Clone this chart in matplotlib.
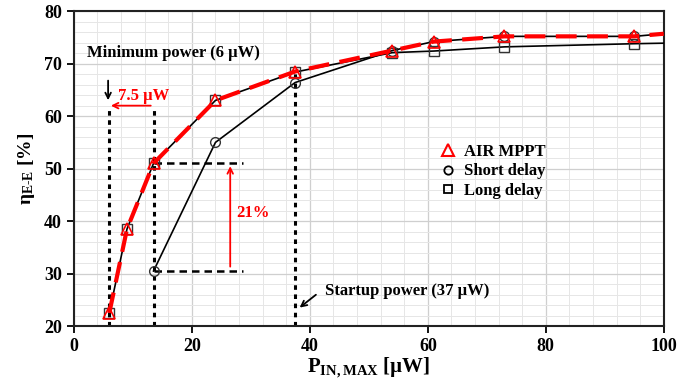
import matplotlib.pyplot as plt
import numpy as np
from matplotlib.ticker import MultipleLocator
from matplotlib.lines import Line2D

plt.rcParams.update({'font.family': 'Liberation Serif', 'font.weight': 'bold',
                     'mathtext.fontset': 'custom',
                     'mathtext.rm': 'Liberation Serif:bold',
                     'mathtext.it': 'Liberation Serif:bold',
                     'mathtext.bf': 'Liberation Serif:bold'})

# data (last value at x=100 has no marker)
p_in = [6, 9, 13.5, 24, 37.5, 54, 61, 73, 95, 100]
air_mppt = [22.5, 38.5, 51, 63, 68.5, 72.5, 74.2, 75.2, 75.2, 75.7]
short_x = [13.5, 24, 37.5, 54, 61, 73, 95, 100]
short_delay = [30.5, 55, 66.4, 72.5, 74.2, 75.2, 75.2, 75.7]
long_delay = [22.5, 38.5, 51, 63, 68.4, 72.1, 72.4, 73.2, 73.8, 73.9]

fig = plt.figure(figsize=(6.78, 3.85), dpi=100)
ax = fig.add_axes([0.109, 0.153, 0.870, 0.818])

ax.plot(p_in, long_delay, color='black', lw=1.2, marker='s', ms=7, mfc='none',
        mec='#333333', mew=1.0, markevery=list(range(len(p_in) - 1)), zorder=3)
ax.plot(short_x, short_delay, color='black', lw=1.2, marker='o', ms=7, mfc='none',
        mec='#333333', mew=1.0, markevery=list(range(len(short_x) - 1)), zorder=3)
ax.plot(p_in, air_mppt, color='red', lw=3, ls=(0, (5, 2.5)), marker='^', ms=8, mfc='none',
        mec='red', mew=1.2, markevery=list(range(len(p_in) - 1)), zorder=4)

# guide lines
ax.plot([6, 6], [20, 62], color='black', ls=(0, (1.5, 1.5)), lw=2.2, zorder=2)
ax.plot([13.5, 13.5], [20, 62], color='black', ls=(0, (1.5, 1.5)), lw=2.2, zorder=2)
ax.plot([37.5, 37.5], [20, 68.3], color='black', ls=(0, (1.5, 1.5)), lw=2.2, zorder=2)
ax.plot([13.5, 28.7], [51, 51], color='black', ls=(0, (3, 2)), lw=1.8, zorder=2)
ax.plot([13.5, 28.7], [30.5, 30.5], color='black', ls=(0, (3, 2)), lw=1.8, zorder=2)

# annotations
ax.text(2.3, 71.2, 'Minimum power (6 µW)', fontsize=12, fontweight='bold')
ax.annotate('', xy=(5.8, 62.5), xytext=(5.8, 67.3),
            arrowprops=dict(arrowstyle='->', color='black', lw=1.3))
ax.text(7.4, 63.0, '7.5 µW', fontsize=12, fontweight='bold', color='red')
ax.annotate('', xy=(5.8, 62), xytext=(13.5, 62),
            arrowprops=dict(arrowstyle='->', color='red', lw=1.3))
ax.annotate('', xy=(26.5, 51), xytext=(26.5, 30.8),
            arrowprops=dict(arrowstyle='->', color='red', lw=1.3))
ax.text(27.6, 41.5, '21%', fontsize=12, fontweight='bold', color='red', va='center')
ax.text(42.5, 26.6, 'Startup power (37 µW)', fontsize=12, fontweight='bold', va='center')
ax.annotate('', xy=(37.9, 23.2), xytext=(41.4, 26.3),
            arrowprops=dict(arrowstyle='->', color='black', lw=1.3))

ax.set_xlim(0, 100)
ax.set_ylim(20, 80)
ax.xaxis.set_major_locator(MultipleLocator(20))
ax.xaxis.set_minor_locator(MultipleLocator(4))
ax.yaxis.set_major_locator(MultipleLocator(10))
ax.yaxis.set_minor_locator(MultipleLocator(2))
ax.grid(which='major', color='#cfcfcf', lw=0.9)
ax.grid(which='minor', color='#e6e6e6', lw=0.7)
ax.set_axisbelow(True)
ax.tick_params(which='major', direction='out', length=5, width=1.3, labelsize=13)
ax.tick_params(which='minor', length=0)
for lab in ax.get_xticklabels() + ax.get_yticklabels():
    lab.set_fontweight('bold')
for s in ax.spines.values():
    s.set_linewidth(1.5)
    s.set_color('#222222')

ax.set_xlabel(r'P$_{\mathrm{IN,MAX}}$ [µW]', fontsize=15, fontweight='bold', labelpad=1)
ax.set_ylabel(r'$\eta_{\mathrm{E\text{-}E}}$ [%]', fontsize=14, fontweight='bold', labelpad=5)

handles = [Line2D([], [], ls='none', marker='^', ms=8, mfc='none', mec='red', mew=1.5),
           Line2D([], [], ls='none', marker='o', ms=6, mfc='none', mec='black', mew=1.3),
           Line2D([], [], ls='none', marker='s', ms=6, mfc='none', mec='black', mew=1.3)]
ax.legend(handles, ['AIR MPPT', 'Short delay', 'Long delay'], loc='upper left',
          bbox_to_anchor=(0.6, 0.615), frameon=False, fontsize=12, handlelength=1.0,
          handletextpad=0.5, labelspacing=0.2, borderpad=0.2)

fig.savefig('out.png', dpi=100)
